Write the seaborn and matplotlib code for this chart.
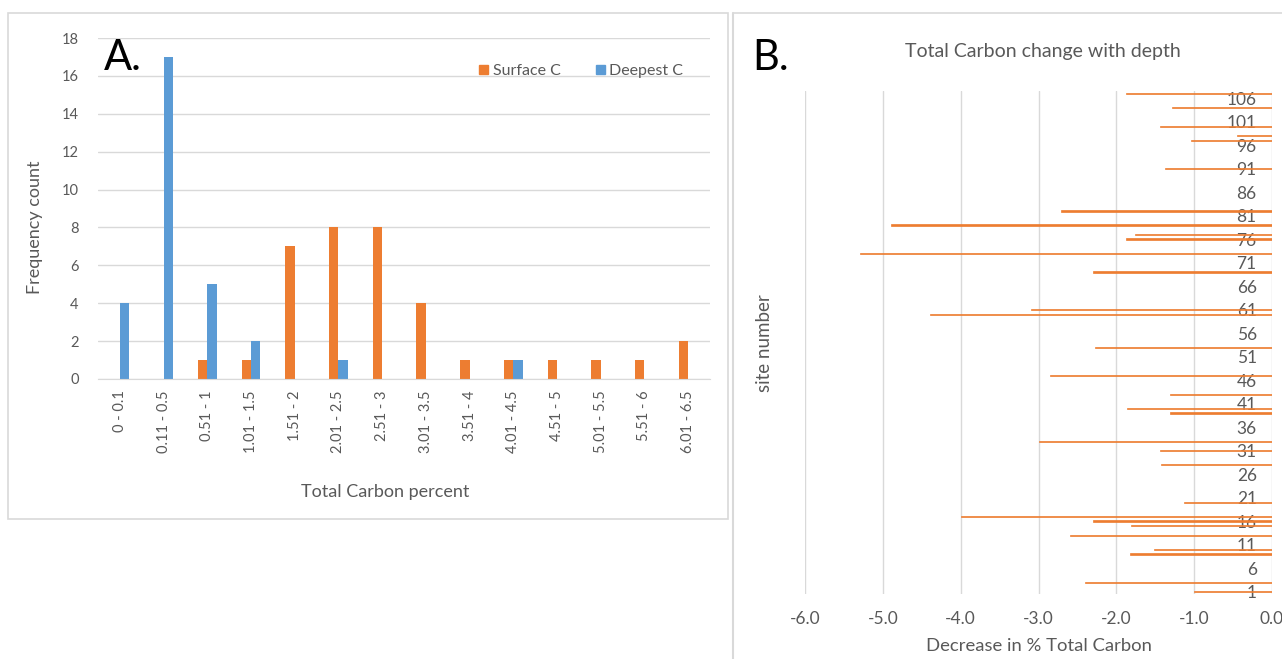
import numpy as np
import pandas as pd
import seaborn as sns
import matplotlib.pyplot as plt
from matplotlib.patches import Patch, Rectangle

# ------------------------------------------------------------
# Data
# ------------------------------------------------------------
# Panel A: frequency of total carbon classes
carbon_bins = ['0 - 0.1', '0.11 - 0.5', '0.51 - 1', '1.01 - 1.5', '1.51 - 2',
               '2.01 - 2.5', '2.51 - 3', '3.01 - 3.5', '3.51 - 4', '4.01 - 4.5',
               '4.51 - 5', '5.01 - 5.5', '5.51 - 6', '6.01 - 6.5']
surface_c = [0, 0, 1, 1, 7, 8, 8, 4, 1, 1, 1, 1, 1, 2]
deepest_c = [4, 17, 5, 2, 0, 1, 0, 0, 0, 1, 0, 0, 0, 0]

# Panel B: decrease in % total carbon per site (visible bars only)
sites = [1, 3, 9, 10, 13, 15, 16, 17, 20, 28, 31, 33, 39, 40, 43, 47, 53,
         60, 61, 69, 73, 76, 77, 79, 82, 91, 97, 98, 100, 104, 107]
decrease = [-1.00, -2.40, -1.82, -1.52, -2.59, -1.81, -2.30, -4.00, -1.13,
            -1.43, -1.44, -3.00, -1.31, -1.86, -1.31, -2.85, -2.27,
            -4.40, -3.10, -2.30, -5.29, -1.88, -1.76, -4.90, -2.71, -1.38,
            -1.04, -0.45, -1.44, -1.28, -1.88]
site_ticks = list(range(1, 107, 5))

ORANGE = '#ED7D31'
BLUE = '#5B9BD5'
GREY_TXT = '#595959'
GRID = '#D9D9D9'

sns.set_style('white')
plt.rcParams['font.family'] = ['Lato', 'DejaVu Sans']

fig = plt.figure(figsize=(12.82, 6.59), dpi=100)

# panel frames
fig.patches.append(Rectangle((8 / 1282, 1 - 519 / 659), 720 / 1282, 506 / 659,
                             transform=fig.transFigure, fill=False,
                             edgecolor=GRID, linewidth=1.2))
fig.add_artist(plt.Line2D([733 / 1282, 733 / 1282], [0, 1 - 13 / 659],
                          transform=fig.transFigure, color=GRID, linewidth=1.5))
fig.add_artist(plt.Line2D([733 / 1282, 1], [1 - 13 / 659, 1 - 13 / 659],
                          transform=fig.transFigure, color=GRID, linewidth=1.2))

# ------------------------------------------------------------
# Panel A: grouped bars
# ------------------------------------------------------------
axA = fig.add_axes([98 / 1282, 1 - 379 / 659, 612 / 1282, 341 / 659])
dfA = pd.DataFrame({'bin': carbon_bins * 2,
                    'count': surface_c + deepest_c,
                    'series': ['Surface C'] * len(carbon_bins) + ['Deepest C'] * len(carbon_bins)})
sns.barplot(data=dfA, x='bin', y='count', hue='series', ax=axA,
            palette=[ORANGE, BLUE], width=0.43, gap=0, saturation=1,
            linewidth=0, legend=False)
axA.set_ylim(0, 18)
axA.set_xlim(-0.5, len(carbon_bins) - 0.5)
axA.set_yticks(range(0, 19, 2))
axA.grid(axis='y', color=GRID, linewidth=1)
axA.set_axisbelow(True)
for s in ['top', 'right', 'left']:
    axA.spines[s].set_visible(False)
axA.spines['bottom'].set_color(GRID)
axA.tick_params(axis='both', length=0, colors=GREY_TXT, labelsize=10.5)
axA.tick_params(axis='x', pad=8)
axA.tick_params(axis='y', pad=14)
plt.setp(axA.get_xticklabels(), rotation=90)
axA.set_xlabel('Total Carbon percent', color=GREY_TXT, fontsize=13)
axA.xaxis.set_label_coords(0.469, -0.307)
axA.set_ylabel('Frequency count', color=GREY_TXT, fontsize=13)
axA.yaxis.set_label_coords(-0.09, 0.446)
axA.text(0.01, 0.94, 'A.', transform=axA.transAxes, fontsize=30,
         color='black', va='center', ha='left')
handles = [Patch(color=ORANGE, label='Surface C'), Patch(color=BLUE, label='Deepest C')]
leg = axA.legend(handles=handles, loc='upper right', bbox_to_anchor=(0.98, 0.965),
                 ncol=2, frameon=False, fontsize=11.5, handlelength=0.55,
                 handleheight=0.55, handletextpad=0.3, columnspacing=2.2)
for t in leg.get_texts():
    t.set_color(GREY_TXT)

# ------------------------------------------------------------
# Panel B: thin horizontal bars per site
# ------------------------------------------------------------
axB = fig.add_axes([805 / 1282, 1 - 594 / 659, 467 / 1282, 503 / 659])
dfB = pd.DataFrame({'site': sites, 'decrease': decrease})
sns.barplot(data=dfB, x='decrease', y='site', orient='h', native_scale=True,
            ax=axB, color=ORANGE, width=0.28, saturation=1,
            edgecolor=ORANGE, linewidth=0.5)
axB.set_xlim(-6, 0)
axB.set_ylim(0.5, 107.5)
axB.set_xticks(np.arange(-6, 0.01, 1))
axB.set_xticklabels([f'{v:.1f}' for v in np.arange(-6, 0.01, 1)])
axB.set_yticks(site_ticks)
axB.set_yticklabels([str(s) for s in site_ticks])
axB.grid(axis='x', color=GRID, linewidth=1)
axB.set_axisbelow(True)
for s in ['top', 'right', 'bottom']:
    axB.spines[s].set_visible(False)
axB.spines['left'].set_position(('data', 0))
axB.spines['left'].set_visible(False)
axB.tick_params(axis='both', length=0, colors=GREY_TXT, labelsize=12.5)
axB.tick_params(axis='y', pad=11)
axB.tick_params(axis='x', pad=12)
axB.set_xlabel('Decrease in % Total Carbon', color=GREY_TXT, fontsize=13.3, labelpad=8)
axB.set_ylabel('')
fig.text(765 / 1282, 1 - 343 / 659, 'site number', rotation=90, color=GREY_TXT,
         fontsize=13.5, ha='center', va='center')
fig.text(1043 / 1282, 1 - 51 / 659, 'Total Carbon change with depth',
         color=GREY_TXT, fontsize=14, ha='center', va='center')
fig.text(752 / 1282, 1 - 58 / 659, 'B.', fontsize=30, color='black',
         ha='left', va='center')

fig.savefig('out.png', dpi=100)
